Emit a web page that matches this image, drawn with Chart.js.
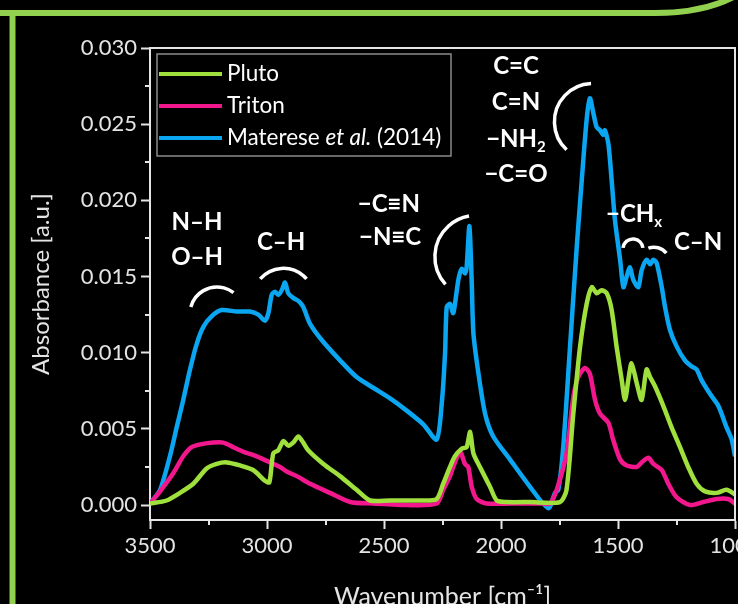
<!DOCTYPE html>
<html>
<head>
<meta charset="utf-8">
<script src="https://cdn.jsdelivr.net/npm/chart.js@4.4.1/dist/chart.umd.min.js"></script>
<style>
  html, body { margin: 0; padding: 0; background: #000; }
  canvas { display: block; }
</style>
</head>
<body>
<canvas id="spectra" width="738" height="604"></canvas>
<script>
// axis ticks
const wavenumberTicks = [3500, 3000, 2500, 2000, 1500, 1000];
const wavenumberMinor = [3250, 2750, 2250, 1750, 1250];
const absorbanceTicks = [0, 0.005, 0.010, 0.015, 0.020, 0.025, 0.030];
const absorbanceMinor = [0.0025, 0.0075, 0.0125, 0.0175, 0.0225, 0.0275];

const seriesLabels = ["Pluto", "Triton", "Materese et al. (2014)"];
const seriesColors = ["#9fe03c", "#f2178d", "#0aa6f2"];

// Pluto
const plutoWn = [3500,3429,3372,3315,3258,3215,3172,3115,3059,3009,2990,2973,2952,2930,2909,2888,2866,2845,2824,2759,2688,2617,2560,2474,2332,2275,2247,2218,2197,2168,2147,2132,2118,2090,2047,2018,1976,1876,1748,1720,1691,1662,1634,1612,1591,1570,1548,1527,1506,1484,1470,1456,1442,1420,1399,1378,1363,1342,1306,1271,1235,1200,1164,1128,1078,1036,1000];
const plutoAbs = [0.0001,0.0003,0.0008,0.0014,0.0024,0.0027,0.0028,0.0026,0.0023,0.0016,0.0015,0.0034,0.0036,0.0042,0.0039,0.0041,0.0045,0.0041,0.0036,0.0027,0.0019,0.0010,0.0003,0.0003,0.0003,0.0004,0.0014,0.0025,0.0032,0.0037,0.0038,0.0048,0.0034,0.0025,0.0012,0.0003,0.0002,0.0002,0.0002,0.0010,0.0060,0.0104,0.0132,0.0143,0.0139,0.0141,0.0139,0.0128,0.0104,0.0082,0.0069,0.0082,0.0093,0.0080,0.0069,0.0089,0.0084,0.0078,0.0065,0.0051,0.0038,0.0025,0.0014,0.0009,0.0008,0.0010,0.0007];

// Triton
const tritonWn = [3500,3457,3400,3358,3322,3279,3229,3187,3144,3101,3044,2987,2944,2916,2873,2816,2731,2645,2546,2403,2275,2247,2218,2204,2175,2154,2140,2125,2104,2061,1948,1820,1791,1762,1720,1691,1670,1641,1620,1598,1577,1541,1521,1491,1463,1420,1399,1370,1349,1313,1285,1249,1192,1135,1078,1029,1000];
const tritonAbs = [0.0001,0.0009,0.0021,0.0032,0.0038,0.0040,0.0041,0.0041,0.0038,0.0035,0.0032,0.0028,0.0025,0.0022,0.0019,0.0014,0.0008,0.0002,0.0001,0.0000,0.0001,0.0010,0.0019,0.0025,0.0035,0.0027,0.0025,0.0012,0.0004,0.0001,0.0001,0.0001,0.0001,0.0010,0.0034,0.0071,0.0084,0.0090,0.0086,0.0069,0.0060,0.0054,0.0043,0.0030,0.0026,0.0025,0.0028,0.0031,0.0027,0.0023,0.0014,0.0005,0.0000,0.0002,0.0004,0.0004,0.0001];

// Materese et al. (2014)
const matereseWn = [3500,3457,3415,3386,3358,3329,3300,3272,3236,3194,3129,3073,3037,3009,2994,2980,2966,2952,2937,2923,2909,2888,2866,2845,2816,2759,2688,2617,2546,2474,2403,2332,2275,2253,2239,2232,2218,2204,2182,2168,2154,2147,2135,2125,2118,2097,2068,2033,1962,1876,1798,1769,1755,1734,1705,1676,1655,1634,1620,1605,1591,1577,1563,1556,1541,1527,1513,1491,1477,1463,1449,1435,1413,1399,1378,1363,1349,1335,1313,1299,1278,1249,1214,1185,1164,1143,1107,1071,1036,1014,1000];
const matereseAbs = [0.0001,0.0010,0.0032,0.0051,0.0069,0.0089,0.0106,0.0117,0.0124,0.0128,0.0127,0.0127,0.0125,0.0121,0.0126,0.0138,0.0140,0.0138,0.0141,0.0146,0.0139,0.0136,0.0134,0.0130,0.0119,0.0107,0.0095,0.0084,0.0077,0.0070,0.0062,0.0053,0.0043,0.0067,0.0100,0.0130,0.0132,0.0126,0.0148,0.0155,0.0152,0.0156,0.0183,0.0146,0.0113,0.0087,0.0060,0.0045,0.0030,0.0012,-0.0002,0.0008,0.0010,0.0038,0.0104,0.0170,0.0213,0.0253,0.0267,0.0257,0.0248,0.0246,0.0243,0.0246,0.0237,0.0213,0.0187,0.0161,0.0143,0.0150,0.0156,0.0148,0.0143,0.0154,0.0161,0.0158,0.0161,0.0159,0.0143,0.0130,0.0115,0.0104,0.0095,0.0091,0.0089,0.0082,0.0073,0.0065,0.0051,0.0043,0.0032];

// band labels, anchored at (wavenumber, absorbance) of the text baseline
const bandLabels = [
  { parts: [["N–H"]], wn: 3299, abs: 0.01805 },
  { parts: [["O–H"]], wn: 3299, abs: 0.01576 },
  { parts: [["C–H"]], wn: 2940, abs: 0.01674 },
  { parts: [["−C≡N"]], wn: 2479, abs: 0.01923 },
  { parts: [["−N≡C"]], wn: 2474, abs: 0.01707 },
  { parts: [["C=C"]], wn: 1936, abs: 0.02829 },
  { parts: [["C=N"]], wn: 1936, abs: 0.02593 },
  { parts: [["−NH"], ["2", true]], wn: 1936, abs: 0.02350 },
  { parts: [["−C=O"]], wn: 1936, abs: 0.02120 },
  { parts: [["−CH"], ["x", true]], wn: 1551, abs: 0.01858, left: true },
  { parts: [["C–N"]], wn: 1158, abs: 0.01674 },
];
// bracket arcs: centre (wavenumber, absorbance), radius px, start/end angle deg
const bandArcs = [
  { wn: 3214, abs: 0.01254, r: 27, a0: -165, a1: -52 },
  { wn: 2930, abs: 0.01352, r: 30.7, a0: -139, a1: -41 },
  { wn: 2106, abs: 0.01630, r: 41.3, a0: 138, a1: 260 },
  { wn: 1608, abs: 0.02516, r: 38.3, a0: 133, a1: 267.5 },
  { wn: 1436, abs: 0.01681, r: 10, a0: -174, a1: -6 },
  { wn: 1346, abs: 0.01589, r: 15.8, a0: -111, a1: -39 },
];

const axisColor = "#e4e4e4";
const fontFamily = "Lato, 'Open Sans', sans-serif";
Chart.defaults.font.family = fontFamily;
Chart.defaults.color = axisColor;

function toPoints(xs, ys) {
  return xs.map((x, i) => ({ x: x, y: ys[i] }));
}

// background + green frame
const framePlugin = {
  id: "frame",
  beforeDraw(chart) {
    const ctx = chart.ctx;
    ctx.save();
    ctx.fillStyle = "#000";
    ctx.fillRect(0, 0, chart.width, chart.height);
    ctx.strokeStyle = "#92d050";
    ctx.lineWidth = 6;
    ctx.beginPath();
    ctx.moveTo(12.5, chart.height + 5);
    ctx.lineTo(12.5, 13);
    ctx.moveTo(0, 13);
    ctx.lineTo(655, 13);
    ctx.quadraticCurveTo(712, 13, 745, -10);
    ctx.stroke();
    ctx.restore();
  },
};

// minor ticks, box, labels, legend
const overlayPlugin = {
  id: "overlay",
  afterDraw(chart) {
    const ctx = chart.ctx;
    const x = chart.scales.x;
    const y = chart.scales.y;
    const area = chart.chartArea;
    ctx.save();
    ctx.strokeStyle = axisColor;
    ctx.lineWidth = 2;
    ctx.beginPath();
    wavenumberMinor.forEach((v) => {
      const px = Math.round(x.getPixelForValue(v));
      ctx.moveTo(px, area.bottom);
      ctx.lineTo(px, area.bottom + 5);
    });
    absorbanceMinor.forEach((v) => {
      const py = Math.round(y.getPixelForValue(v));
      ctx.moveTo(area.left, py);
      ctx.lineTo(area.left - 5, py);
    });
    // top and right frame of the plot
    ctx.moveTo(area.left, area.top);
    ctx.lineTo(area.right, area.top);
    ctx.lineTo(area.right, area.bottom);
    ctx.stroke();

    // band labels
    ctx.fillStyle = "#fff";
    ctx.textBaseline = "alphabetic";
    bandLabels.forEach((lab) => {
      let total = 0;
      const widths = lab.parts.map(([t, sub]) => {
        ctx.font = (sub ? "bold 15px " : "bold 24px ") + fontFamily;
        const w = ctx.measureText(t).width;
        total += w;
        return w;
      });
      let px = x.getPixelForValue(lab.wn);
      if (!lab.left) px -= total / 2;
      const py = y.getPixelForValue(lab.abs);
      lab.parts.forEach(([t, sub], i) => {
        ctx.font = (sub ? "bold 15px " : "bold 24px ") + fontFamily;
        ctx.fillText(t, px, sub ? py + 5 : py);
        px += widths[i];
      });
    });
    ctx.strokeStyle = "#fff";
    ctx.lineWidth = 3.5;
    bandArcs.forEach((a) => {
      ctx.beginPath();
      ctx.arc(x.getPixelForValue(a.wn), y.getPixelForValue(a.abs), a.r,
        a.a0 * Math.PI / 180, a.a1 * Math.PI / 180);
      ctx.stroke();
    });

    // legend
    const lx = area.left + 7, ly = area.top + 6;
    ctx.strokeStyle = "#8a8a8a";
    ctx.lineWidth = 1.5;
    ctx.strokeRect(lx, ly, 294, 102);
    ctx.textBaseline = "middle";
    chart.data.datasets.forEach((ds, i) => {
      const rowY = ly + 20 + i * 32;
      ctx.strokeStyle = ds.borderColor;
      ctx.lineWidth = 4;
      ctx.beginPath();
      ctx.moveTo(lx + 2, rowY);
      ctx.lineTo(lx + 65, rowY);
      ctx.stroke();
      ctx.fillStyle = "#fff";
      let tx = lx + 70;
      ds.label.split(/(et al\.)/).forEach((p) => {
        ctx.font = (p === "et al." ? "italic 22.5px " : "22.5px ") + fontFamily;
        ctx.fillText(p, tx, rowY);
        tx += ctx.measureText(p).width;
      });
    });
    ctx.restore();
  },
};

new Chart(document.getElementById("spectra"), {
  type: "line",
  data: {
    datasets: [
      { label: seriesLabels[0], data: toPoints(plutoWn, plutoAbs), borderColor: seriesColors[0] },
      { label: seriesLabels[1], data: toPoints(tritonWn, tritonAbs), borderColor: seriesColors[1] },
      { label: seriesLabels[2], data: toPoints(matereseWn, matereseAbs), borderColor: seriesColors[2] },
    ],
  },
  options: {
    responsive: false,
    animation: false,
    devicePixelRatio: 1,
    layout: { padding: { top: 48, right: 3, left: 0, bottom: 0 } },
    elements: {
      line: { borderWidth: 4.5, tension: 0.25, fill: false },
      point: { radius: 0 },
    },
    plugins: { legend: { display: false }, tooltip: { enabled: false } },
    scales: {
      x: {
        type: "linear",
        reverse: true,
        min: 1000,
        max: 3500,
        afterBuildTicks: (scale) => { scale.ticks = wavenumberTicks.map((v) => ({ value: v })); },
        afterFit: (scale) => { scale.height = 84; scale.paddingLeft = 0; scale.paddingRight = 0; },
        ticks: { color: axisColor, font: { size: 22 }, padding: 4, maxRotation: 0, autoSkip: false, callback: (v) => String(v) },
        grid: { drawOnChartArea: false, tickLength: 9, tickColor: axisColor, tickWidth: 2 },
        border: { color: axisColor, width: 2 },
        title: { display: true, text: "Wavenumber [cm⁻¹]", color: axisColor, font: { size: 25 }, padding: { top: 0, bottom: -8 } },
      },
      y: {
        min: -0.00098,
        max: 0.030,
        afterBuildTicks: (scale) => { scale.ticks = absorbanceTicks.map((v) => ({ value: v })); },
        afterFit: (scale) => { scale.width = 150; },
        ticks: { color: axisColor, font: { size: 22 }, padding: 4, autoSkip: false, callback: (v) => v.toFixed(3) },
        grid: { drawOnChartArea: false, tickLength: 9, tickColor: axisColor, tickWidth: 2 },
        border: { color: axisColor, width: 2 },
        title: { display: true, text: "Absorbance [a.u.]", color: axisColor, font: { size: 24 }, padding: { top: 27, bottom: 0 } },
      },
    },
  },
  plugins: [framePlugin, overlayPlugin],
});
</script>
</body>
</html>
